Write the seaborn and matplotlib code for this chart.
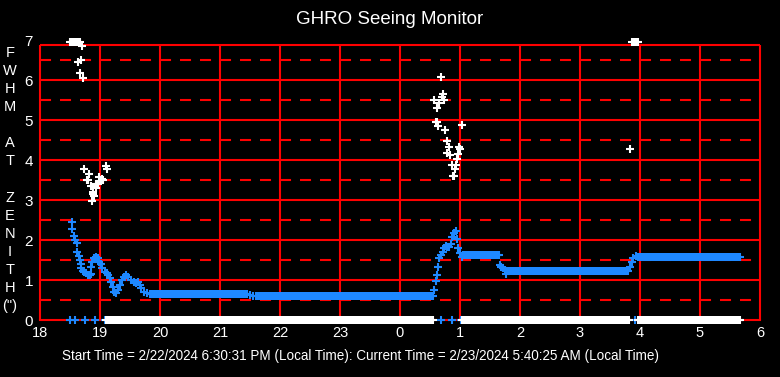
import numpy as np
import pandas as pd
import seaborn as sns
import matplotlib
matplotlib.use('Agg')
import matplotlib.pyplot as plt

# blue series (seeing), hours since 18:00 of start day (24+ = after midnight)
blue_t = [18.53, 18.54, 18.56, 18.58, 18.61, 18.62, 18.65, 18.67, 18.68, 18.69,
          18.72, 18.74, 18.77, 18.8, 18.83, 18.85, 18.85, 18.87, 18.9, 18.93,
          18.96, 18.98, 19.01, 19.04, 19.08, 19.11, 19.13, 19.17, 19.19, 19.21,
          19.23, 19.27, 19.3, 19.33, 19.36, 19.4, 19.43, 19.47, 19.51, 19.56,
          19.6, 19.64, 19.67, 19.69, 19.73, 19.78, 19.83,
          21.5, 21.55,
          24.57, 24.595, 24.61, 24.63, 24.65, 24.68, 24.71, 24.73, 24.76, 24.79,
          24.82, 24.85, 24.87, 24.9, 24.93, 24.955, 24.97, 25.0, 25.03,
          25.67, 25.69, 25.72, 25.75, 25.77,
          27.83, 27.86, 27.89, 27.94]
blue_v = [2.44, 2.27, 2.1, 2.0, 1.92, 1.71, 1.6, 1.5, 1.4, 1.29,
          1.22, 1.19, 1.17, 1.13, 1.12, 1.14, 1.32, 1.46, 1.54, 1.58,
          1.54, 1.46, 1.39, 1.29, 1.21, 1.17, 1.13, 1.04, 0.96, 0.83,
          0.71, 0.68, 0.75, 0.88, 1.0, 1.08, 1.13, 1.08, 1.0, 0.96,
          0.93, 0.96, 0.88, 0.79, 0.71, 0.67, 0.65,
          0.62, 0.61,
          0.75, 0.97, 1.12, 1.32, 1.54, 1.62, 1.71, 1.79, 1.86, 1.82,
          1.83, 1.89, 2.08, 2.18, 2.23, 2.03, 1.79, 1.67, 1.58,
          1.37, 1.32, 1.3, 1.25, 1.15,
          1.33, 1.46, 1.54, 1.6]
# flat runs of blue points: (from, to, value)
blue_runs = [(19.85, 21.47, 0.65), (21.6, 24.55, 0.6), (25.05, 25.65, 1.62),
             (25.8, 27.8, 1.22), (27.96, 29.67, 1.57)]
blue_zero_t = [18.5, 18.58, 18.75, 18.92, 19.08, 24.69, 24.86, 25.02, 27.92]

# white series (FWHM at zenith)
white_t = [18.5, 18.53, 18.57, 18.6, 18.63, 18.67,
           18.705, 18.64, 18.68, 18.67, 18.72,
           18.74, 18.82, 18.78, 18.8, 18.85, 18.89, 18.9, 18.86, 18.94, 18.97,
           19.0, 18.99, 19.03, 19.05, 19.1, 19.12, 18.88, 18.93,
           24.678, 24.72, 24.70, 24.57, 24.74, 24.655, 24.61, 24.60, 24.62, 24.64,
           24.755, 25.04, 24.79, 24.81, 24.78, 24.84, 24.99, 25.005, 24.97, 24.955,
           24.87, 24.93, 24.92, 24.89, 24.90,
           27.83, 27.87, 27.9, 27.93, 27.97]
white_v = [6.95, 6.95, 6.95, 6.95, 6.95, 6.95,
           6.85, 6.44, 6.5, 6.17, 6.04,
           3.77, 3.64, 3.5, 3.5, 3.36, 3.21, 3.11, 2.97, 3.29, 3.39,
           3.47, 3.58, 3.52, 3.5, 3.85, 3.77, 3.15, 3.4,
           6.07, 5.64, 5.58, 5.49, 5.49, 5.42, 5.29, 4.96, 4.96, 4.84,
           4.74, 4.87, 4.47, 4.33, 4.17, 4.12, 4.33, 4.27, 4.14, 4.02,
           3.87, 3.875, 3.78, 3.61, 3.6,
           4.28, 6.95, 6.95, 6.95, 6.95]
white_zero_runs = [(19.1, 24.55), (25.04, 27.82), (27.97, 29.67)]

x_ticks = list(range(18, 31))
x_labels = [str(h % 24) for h in x_ticks]
ylabel_letters = ['F', 'W', 'H', 'M', '', 'A', 'T', '', 'Z', 'E', 'N', 'I', 'T', 'H', '(")']
title = 'GHRO Seeing Monitor'
footer = ('Start Time = 2/22/2024 6:30:31 PM (Local Time): '
          'Current Time = 2/23/2024 5:40:25 AM (Local Time)')

step = 1 / 40.0
bt, bv = list(blue_t), list(blue_v)
for a, b, v in blue_runs:
    t = np.arange(a, b + 1e-9, step)
    bt += list(t); bv += [v] * len(t)
bt += blue_zero_t; bv += [0.0] * len(blue_zero_t)
wt, wv = list(white_t), list(white_v)
for a, b in white_zero_runs:
    t = np.arange(a, b + 1e-9, step)
    wt += list(t); wv += [0.0] * len(t)
df_blue = pd.DataFrame({'time': bt, 'value': bv})
df_white = pd.DataFrame({'time': wt, 'value': wv})

plt.rcParams['font.family'] = ['Liberation Sans', 'DejaVu Sans']
fig = plt.figure(figsize=(7.8, 3.77), dpi=100, facecolor='black')
ax = fig.add_axes([40 / 780, 57 / 377, 720 / 780, 280 / 377])
ax.set_facecolor('black')
ax.set_xlim(18, 30)
ax.set_ylim(0, 7)

red = '#ff0000'
top = 6.875
for y in range(1, 7):
    ax.axhline(y, color=red, lw=1.5, zorder=1)
for y in np.arange(0.5, 7, 1.0):
    ax.axhline(y, color=red, lw=1.5, ls=(0, (5.3, 4.3)), zorder=1)
ax.axhline(top, color=red, lw=1.5, zorder=1)
ax.vlines(x_ticks, 0, top, color=red, lw=1.5, zorder=1, clip_on=False)
for s in ['top', 'left', 'right']:
    ax.spines[s].set_visible(False)
ax.spines['bottom'].set_color(red)
ax.spines['bottom'].set_linewidth(1.5)

sns.scatterplot(data=df_blue, x='time', y='value', ax=ax, marker='+', s=40,
                linewidth=1.5, color='#1e88ff', zorder=3, clip_on=False)
sns.scatterplot(data=df_white, x='time', y='value', ax=ax, marker='+', s=40,
                linewidth=1.5, color='white', zorder=4, clip_on=False)

ax.set_xticks(x_ticks)
ax.set_xticklabels(x_labels)
ax.set_yticks(range(0, 8))
ax.tick_params(axis='both', length=0, colors='white', labelsize=10.5)
ax.tick_params(axis='x', pad=4)
ax.tick_params(axis='y', pad=5, labelsize=11)
ax.set_xlabel('')
ax.set_ylabel('')

fig.text(0.5, 1 - 20 / 377, title, color='white', fontsize=13.5,
         ha='center', va='center')
for i, ch in enumerate(ylabel_letters):
    if ch:
        fig.text(10 / 780, 1 - (53 + i * 18.07) / 377, ch, color='white',
                 fontsize=10.5, ha='center', va='center')
fig.text(62 / 780, 1 - 356 / 377, footer, color='white', fontsize=9.75,
         ha='left', va='center')

plt.savefig('out.png', dpi=100, facecolor='black')
plt.close(fig)
